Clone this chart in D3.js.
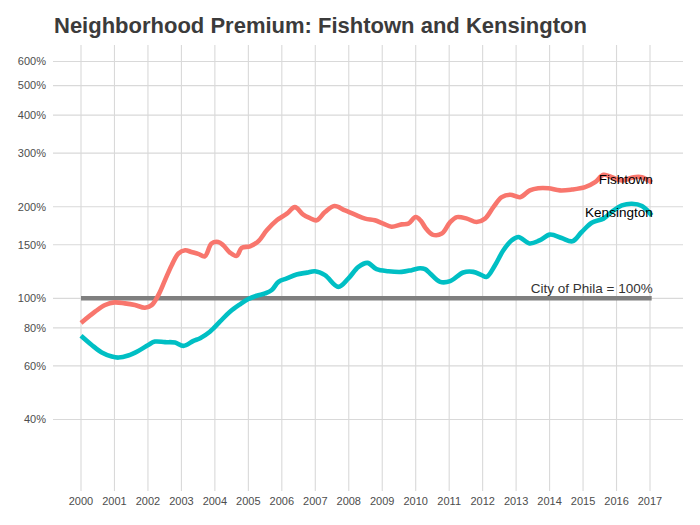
<!DOCTYPE html>
<html lang="en">
<head>
  <meta charset="UTF-8">
  <title>Neighborhood Premium: Fishtown and Kensington</title>
  <style>
    body { margin: 0; background: #fff; }
    svg { display: block; font-family: "Liberation Sans", Arial, sans-serif; }
  </style>
  <script src="https://d3js.org/d3.v7.min.js"></script>
</head>
<body>
  <svg id="chart"></svg>
  <script>
    // values (ratio to city median, 1 = 100%)
    const fishYears = [2000.0, 2000.42, 2000.72, 2001.0, 2001.31, 2001.61, 2001.91, 2002.11, 2002.31, 2002.51,
      2002.71, 2002.91, 2003.11, 2003.3, 2003.5, 2003.7, 2003.9, 2004.1, 2004.25, 2004.45,
      2004.65, 2004.8, 2005.05, 2005.3, 2005.55, 2005.85, 2006.15, 2006.39, 2006.64, 2006.84,
      2007.04, 2007.29, 2007.57, 2007.89, 2008.19, 2008.49, 2008.78, 2009.03, 2009.28, 2009.58,
      2009.78, 2010.0, 2010.15, 2010.3, 2010.5, 2010.78, 2011.03, 2011.23, 2011.53, 2011.82,
      2012.07, 2012.32, 2012.57, 2012.82, 2013.12, 2013.41, 2013.66, 2013.96, 2014.31, 2014.66,
      2015.06, 2015.36, 2015.61, 2015.86, 2016.16, 2016.51, 2016.76, 2017.05];
    const fishtown = [0.83, 0.904, 0.951, 0.970, 0.963, 0.951, 0.932, 0.95, 1.025, 1.148,
      1.285, 1.404, 1.439, 1.42, 1.40, 1.375, 1.514, 1.532, 1.494, 1.414,
      1.379, 1.464, 1.483, 1.540, 1.673, 1.805, 1.897, 1.994, 1.883, 1.836,
      1.805, 1.921, 2.010, 1.945, 1.883, 1.828, 1.805, 1.760, 1.720, 1.750,
      1.760, 1.85, 1.80, 1.70, 1.62, 1.632, 1.781, 1.849, 1.828, 1.781,
      1.828, 1.994, 2.150, 2.191, 2.150, 2.263, 2.30, 2.300, 2.263, 2.277,
      2.319, 2.408, 2.546, 2.501, 2.439, 2.501, 2.50, 2.40];

    const kensYears = [2000.0, 2000.32, 2000.62, 2000.92, 2001.12, 2001.41, 2001.71, 2002.01, 2002.21, 2002.51,
      2002.81, 2003.06, 2003.36, 2003.56, 2003.85, 2004.15, 2004.45, 2004.75, 2005.0, 2005.25,
      2005.5, 2005.7, 2005.9, 2006.15, 2006.44, 2006.75, 2006.99, 2007.29, 2007.69, 2007.99,
      2008.29, 2008.56, 2008.83, 2009.18, 2009.58, 2009.88, 2010.13, 2010.28, 2010.43, 2010.73,
      2011.03, 2011.42, 2011.72, 2011.97, 2012.12, 2012.37, 2012.62, 2012.87, 2013.07, 2013.4,
      2013.7, 2014.01, 2014.36, 2014.68, 2014.96, 2015.26, 2015.61, 2015.91, 2016.16, 2016.46,
      2016.76, 2017.05];
    const kensington = [0.754, 0.703, 0.664, 0.644, 0.639, 0.649, 0.672, 0.703, 0.721, 0.718,
      0.716, 0.698, 0.725, 0.740, 0.777, 0.838, 0.904, 0.956, 0.995, 1.020,
      1.038, 1.065, 1.133, 1.163, 1.198, 1.215, 1.228, 1.192, 1.091, 1.163,
      1.269, 1.308, 1.247, 1.228, 1.222, 1.238, 1.256, 1.247, 1.207, 1.133,
      1.139, 1.216, 1.222, 1.192, 1.177, 1.285, 1.439, 1.552, 1.591, 1.515,
      1.55, 1.620, 1.579, 1.540, 1.652, 1.773, 1.828, 1.945, 2.020, 2.046,
      2.010, 1.873];

    const yTicks = [0.4, 0.6, 0.8, 1, 1.5, 2, 3, 4, 5, 6];
    const xTicks = d3.range(2000, 2018);
    const cityLevel = 1;

    const W = 700, H = 525;
    const panel = { left: 53, right: 683, top: 45, bottom: 491 };

    const svg = d3.select('#chart').attr('width', W).attr('height', H);

    const x = d3.scaleLinear().domain([2000, 2017]).range([81, 650]);
    const y = d3.scaleLog().domain([0.4, 6]).range([419.5, 61.5]);

    // grid
    const grid = svg.append('g').attr('stroke', '#d9d9d9').attr('stroke-width', 1.1);
    grid.selectAll('line.v').data(xTicks).enter().append('line')
      .attr('x1', d => x(d)).attr('x2', d => x(d))
      .attr('y1', panel.top).attr('y2', panel.bottom);
    grid.selectAll('line.h').data(yTicks).enter().append('line')
      .attr('x1', panel.left).attr('x2', panel.right)
      .attr('y1', d => y(d)).attr('y2', d => y(d));

    // axis labels
    svg.append('g').selectAll('text').data(yTicks).enter().append('text')
      .attr('x', 46).attr('y', d => y(d)).attr('dy', '0.35em')
      .attr('text-anchor', 'end').attr('font-size', 11).attr('fill', '#4d4d4d')
      .text(d => Math.round(d * 100) + '%');
    svg.append('g').selectAll('text').data(xTicks).enter().append('text')
      .attr('x', d => x(d)).attr('y', 501).attr('dy', '0.35em')
      .attr('text-anchor', 'middle').attr('font-size', 11).attr('fill', '#4d4d4d')
      .text(d => d);

    // city reference line
    svg.append('line')
      .attr('x1', x(fishYears[0])).attr('x2', x(fishYears[fishYears.length - 1]))
      .attr('y1', y(cityLevel)).attr('y2', y(cityLevel))
      .attr('stroke', '#7f7f7f').attr('stroke-width', 4.5);
    svg.append('text')
      .attr('x', x(fishYears[fishYears.length - 1]) + 1).attr('y', y(cityLevel) - 5)
      .attr('text-anchor', 'end').attr('font-size', 13.5).attr('fill', '#333')
      .text('City of Phila = 100%');

    const line = d3.line()
      .x(d => x(d[0])).y(d => y(d[1]))
      .curve(d3.curveCatmullRom.alpha(0.5));

    const series = [
      { name: 'Fishtown', years: fishYears, values: fishtown, color: '#F8766D' },
      { name: 'Kensington', years: kensYears, values: kensington, color: '#00BFC4' }
    ];

    series.forEach(s => {
      const pts = s.years.map((yr, i) => [yr, s.values[i]]);
      svg.append('path')
        .attr('d', line(pts))
        .attr('fill', 'none')
        .attr('stroke', s.color)
        .attr('stroke-width', 4.6)
        .attr('stroke-linejoin', 'round');
    });

    series.forEach(s => {
      const n = s.years.length - 1;
      svg.append('text')
        .attr('x', x(s.years[n]) + 1).attr('y', y(s.values[n]) - 3)
        .attr('dy', '0.35em')
        .attr('text-anchor', 'end').attr('font-size', 13.5).attr('fill', '#000')
        .text(s.name);
    });

    // title
    svg.append('text')
      .attr('x', 54).attr('y', 33)
      .attr('font-size', 22).attr('font-weight', 'bold').attr('fill', '#3b3b3b')
      .text('Neighborhood Premium: Fishtown and Kensington');
  </script>
</body>
</html>
